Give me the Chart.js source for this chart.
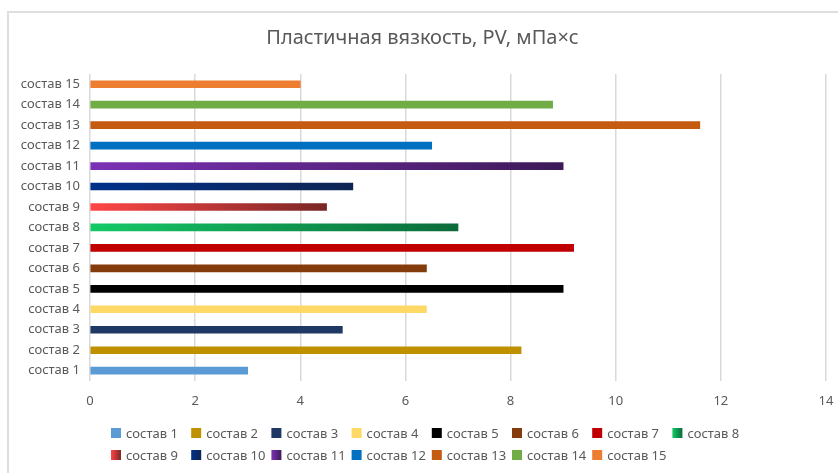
<!DOCTYPE html>
<html>
<head>
<meta charset="utf-8">
<title>Пластичная вязкость</title>
<script src="https://cdn.jsdelivr.net/npm/chart.js@4.4.1/dist/chart.umd.min.js"></script>
<style>
    body { margin: 0; background: #fff; overflow: hidden; }
    #frame { position: absolute; left: 7px; top: 11px; width: 900px; height: 500px;
             border-top: 2px solid #dedede; border-left: 2px solid #dedede; }
    #chart { position: absolute; left: 0; top: 0; }
</style>
</head>
<body>
<div id="frame"></div>
<canvas id="chart" width="838" height="473"></canvas>
<script>
//составы и значения PV
var categories = ["состав 1", "состав 2", "состав 3", "состав 4", "состав 5",
    "состав 6", "состав 7", "состав 8", "состав 9", "состав 10",
    "состав 11", "состав 12", "состав 13", "состав 14", "состав 15"];
var values = [3.0, 8.2, 4.8, 6.4, 9.0, 6.4, 9.2, 7.0, 4.5, 5.0, 9.0, 6.5, 11.6, 8.8, 4.0];
var xTicks = [0, 2, 4, 6, 8, 10, 12, 14];

//цвета серий (градиент: начало -> конец)
var colors = ["#5b9bd5", "#bf9000", "#203864", "#ffd966", "#000000",
    "#843c0c", "#c00000", null, null, null,
    null, "#0070c0", "#c55a11", "#70ad47", "#ed7d31"];
var gradients = {
    7: ["#14c966", "#0b6b3a"],
    8: ["#ff4646", "#7a2626"],
    9: ["#00318a", "#0f2553"],
    10: ["#7b31b6", "#3e1a58"]
};

var textColor = "#595959";
var fontFamily = "'Noto Sans', 'Open Sans', sans-serif";

//заливка полосы, градиент по длине полосы
function barFill(i) {
    return function (ctx) {
        var g = gradients[i];
        if (!g) return colors[i];
        var chart = ctx.chart;
        var x = chart.scales.x;
        if (!chart.chartArea || !x || ctx.raw == null) return g[0];
        var x0 = x.getPixelForValue(0);
        var x1 = x.getPixelForValue(ctx.raw);
        var grad = chart.ctx.createLinearGradient(x0, 0, x1, 0);
        grad.addColorStop(0, g[0]);
        grad.addColorStop(1, g[1]);
        return grad;
    };
}

//легенда в виде сетки 8 колонок
var gridLegend = {
    id: "gridLegend",
    afterDraw: function (chart) {
        var ctx = chart.ctx;
        ctx.save();
        ctx.font = "13px " + fontFamily;
        ctx.textBaseline = "middle";
        chart.data.datasets.forEach(function (ds, i) {
            var col = i % 8, row = Math.floor(i / 8);
            var x = 111 + col * 80.2;
            var y = 433 + row * 22;
            var g = gradients[i];
            if (g) {
                var grad = ctx.createLinearGradient(x, 0, x + 10, 0);
                grad.addColorStop(0, g[0]);
                grad.addColorStop(1, g[1]);
                ctx.fillStyle = grad;
            } else {
                ctx.fillStyle = colors[i];
            }
            ctx.fillRect(x, y - 5, 10, 10);
            ctx.fillStyle = textColor;
            ctx.fillText(ds.label, x + 15, y + 1);
        });
        ctx.restore();
    }
};

var datasets = categories.map(function (name, i) {
    return {
        label: name,
        data: categories.map(function (c, j) { return j === i ? values[i] : null; }),
        backgroundColor: barFill(i),
        borderWidth: 0,
        barThickness: 7,
        grouped: false
    };
});

new Chart(document.getElementById("chart"), {
    type: "bar",
    data: { labels: categories, datasets: datasets },
    plugins: [gridLegend],
    options: {
        indexAxis: "y",
        responsive: false,
        animation: false,
        layout: { padding: { left: 19, right: 12, top: 0, bottom: 59.5 } },
        plugins: {
            legend: { display: false },
            tooltip: { enabled: false },
            title: {
                display: true,
                text: "Пластичная вязкость, PV, мПа×с",
                color: textColor,
                font: { family: fontFamily, size: 20, weight: "normal" },
                padding: { top: 26, bottom: 24 }
            }
        },
        scales: {
            x: {
                min: 0,
                max: 14,
                afterBuildTicks: function (scale) {
                    scale.ticks = xTicks.map(function (v) { return { value: v }; });
                },
                grid: { color: "#d9d9d9", lineWidth: 1.5, drawTicks: true, tickLength: 9, tickColor: "rgba(0,0,0,0)" },
                border: { display: false },
                ticks: { color: textColor, font: { family: fontFamily, size: 13 }, padding: 4 }
            },
            y: {
                reverse: true,
                afterFit: function (scale) { scale.width = 71; },
                grid: { display: false, drawTicks: false },
                border: { display: false },
                ticks: { color: textColor, font: { family: fontFamily, size: 13 }, padding: 10 }
            }
        }
    }
});
</script>
</body>
</html>
